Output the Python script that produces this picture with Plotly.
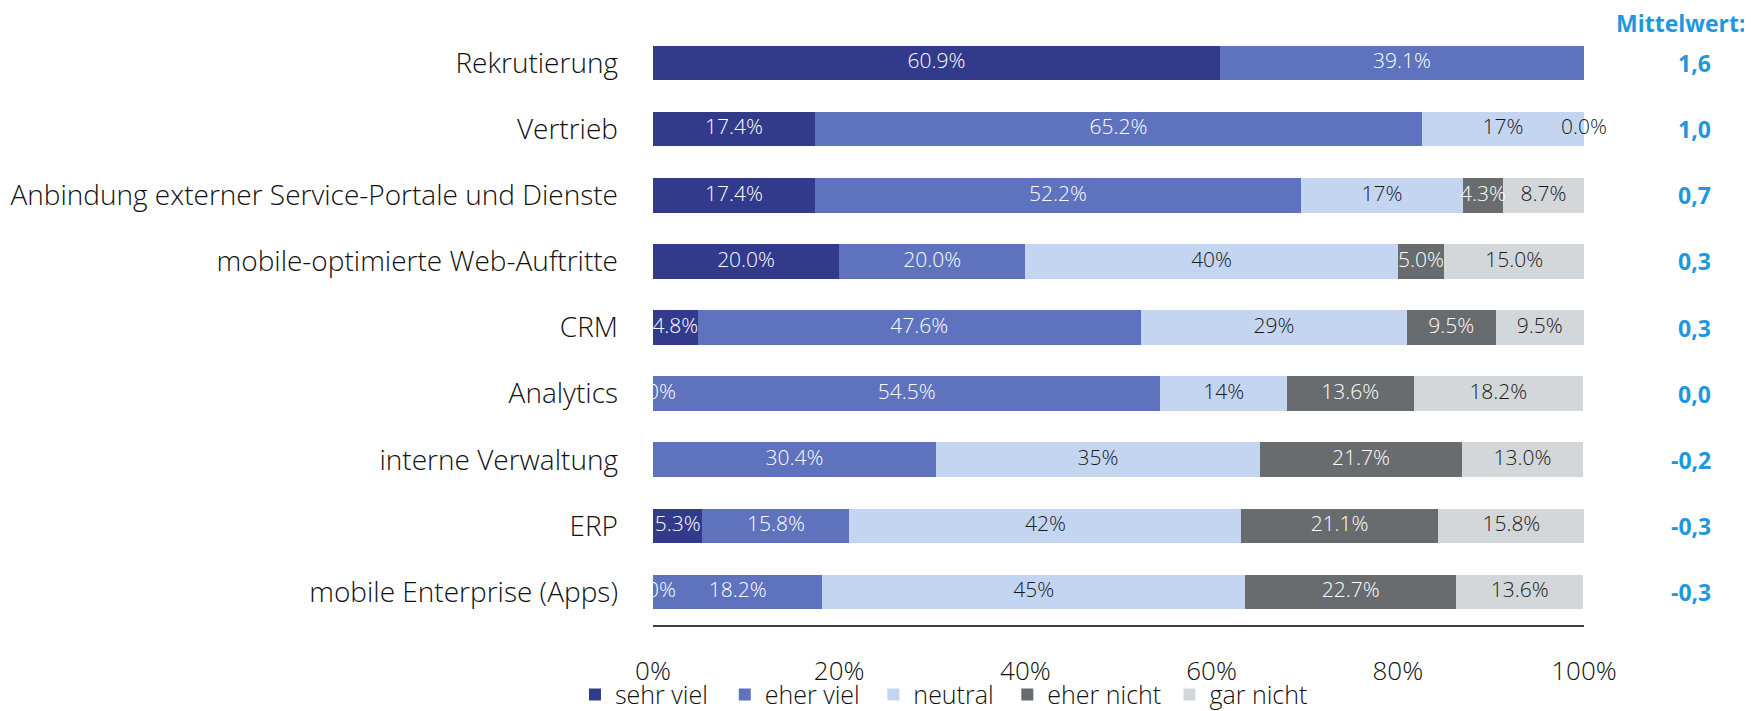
import plotly.graph_objects as go

categories = [
    "Rekrutierung",
    "Vertrieb",
    "Anbindung externer Service-Portale und Dienste",
    "mobile-optimierte Web-Auftritte",
    "CRM",
    "Analytics",
    "interne Verwaltung",
    "ERP",
    "mobile Enterprise (Apps)",
]
series_names = ["sehr viel", "eher viel", "neutral", "eher nicht", "gar nicht"]
# None = segment absent without label; 0.0 = zero segment with label shown
sehr_viel = [60.9, 17.4, 17.4, 20.0, 4.8, 0.0, None, 5.3, 0.0]
eher_viel = [39.1, 65.2, 52.2, 20.0, 47.6, 54.5, 30.4, 15.8, 18.2]
neutral = [None, 17.4, 17.4, 40.0, 28.6, 13.6, 34.8, 42.1, 45.4]
eher_nicht = [None, None, 4.3, 5.0, 9.5, 13.6, 21.7, 21.1, 22.7]
gar_nicht = [None, 0.0, 8.7, 15.0, 9.5, 18.2, 13.0, 15.8, 13.6]
mittelwert = ["1,6", "1,0", "0,7", "0,3", "0,3", "0,0", "-0,2", "-0,3", "-0,3"]
x_ticks = [0, 20, 40, 60, 80, 100]
x_tick_labels = ["0%", "20%", "40%", "60%", "80%", "100%"]

series_values = [sehr_viel, eher_viel, neutral, eher_nicht, gar_nicht]
colors = ["#323A8C", "#5E72BE", "#C4D5F2", "#686C6E", "#D3D7D9"]
text_colors = ["white", "white", "#1a1a1a", "white", "#1a1a1a"]
decimals = [1, 1, 0, 1, 1]
legend_ids = ["legend", "legend2", "legend3", "legend4", "legend5"]
legend_x = [0.3251, 0.4110, 0.4962, 0.5730, 0.6660]

fig = go.Figure()
for name, vals, col, lid in zip(series_names, series_values, colors, legend_ids):
    fig.add_trace(go.Bar(
        y=categories, x=[v if v is not None else 0 for v in vals],
        name=name, orientation="h", marker=dict(color=col, line=dict(width=0)),
        hoverinfo="skip", legend=lid,
    ))

# data labels at segment centres
clip_x, clip_y, clip_t, clip_c = [], [], [], []
free_x, free_y, free_t, free_c = [], [], [], []
for i, cat in enumerate(categories):
    cum = 0.0
    for s, vals in enumerate(series_values):
        v = vals[i]
        if v is None:
            continue
        cx = cum + v / 2
        cum += v
        txt = f"{v:.{decimals[s]}f}%"
        if cx >= 99.9:
            free_x.append(cx); free_y.append(cat); free_t.append(txt); free_c.append("#1a1a1a")
        else:
            clip_x.append(cx); clip_y.append(cat); clip_t.append(txt); clip_c.append(text_colors[s])

label_font = dict(family="Open Sans", size=21, weight=300)
fig.add_trace(go.Scatter(x=clip_x, y=clip_y, text=clip_t, mode="text", cliponaxis=True,
                         textfont=dict(**label_font, color=clip_c), showlegend=False, hoverinfo="skip"))
fig.add_trace(go.Scatter(x=free_x, y=free_y, text=free_t, mode="text", cliponaxis=False,
                         textfont=dict(**label_font, color=free_c), showlegend=False, hoverinfo="skip"))

blue = "#1E98DC"
for cat, m in zip(categories, mittelwert):
    fig.add_annotation(x=1.1386, xref="paper", y=cat, yref="y", text=m, showarrow=False,
                       xanchor="right", font=dict(family="Open Sans", size=23, color=blue, weight="bold"))
fig.add_annotation(x=1.176, xref="paper", y=1.012, yref="paper", text="Mittelwert:", showarrow=False,
                   xanchor="right", yanchor="middle",
                   font=dict(family="Open Sans", size=23, color=blue, weight="bold"))

legend_common = dict(orientation="h", xref="container", xanchor="left",
                     yref="container", y=0.023, yanchor="middle", bgcolor="rgba(0,0,0,0)",
                     font=dict(size=25, weight=300), itemclick=False)
legend_layout = {lid: dict(legend_common, x=lx) for lid, lx in zip(legend_ids, legend_x)}

fig.update_layout(
    barmode="stack",
    width=1744, height=703,
    margin=dict(l=645, r=168, t=22, b=86, autoexpand=False),
    paper_bgcolor="white", plot_bgcolor="white",
    bargap=0.477,
    font=dict(family="Open Sans", color="#111111"),
    xaxis=dict(range=[0, 100], tickvals=x_ticks, ticktext=x_tick_labels, showgrid=False, zeroline=False,
               showline=True, linecolor="#404040", linewidth=1.5, ticks="",
               tickfont=dict(size=26, weight=300), ticklabelstandoff=22),
    yaxis=dict(autorange="reversed", showgrid=False, showline=False, ticks="",
               tickfont=dict(size=28, weight=300), ticklabelstandoff=34),
    **legend_layout,
)

fig.write_html("out.html")
